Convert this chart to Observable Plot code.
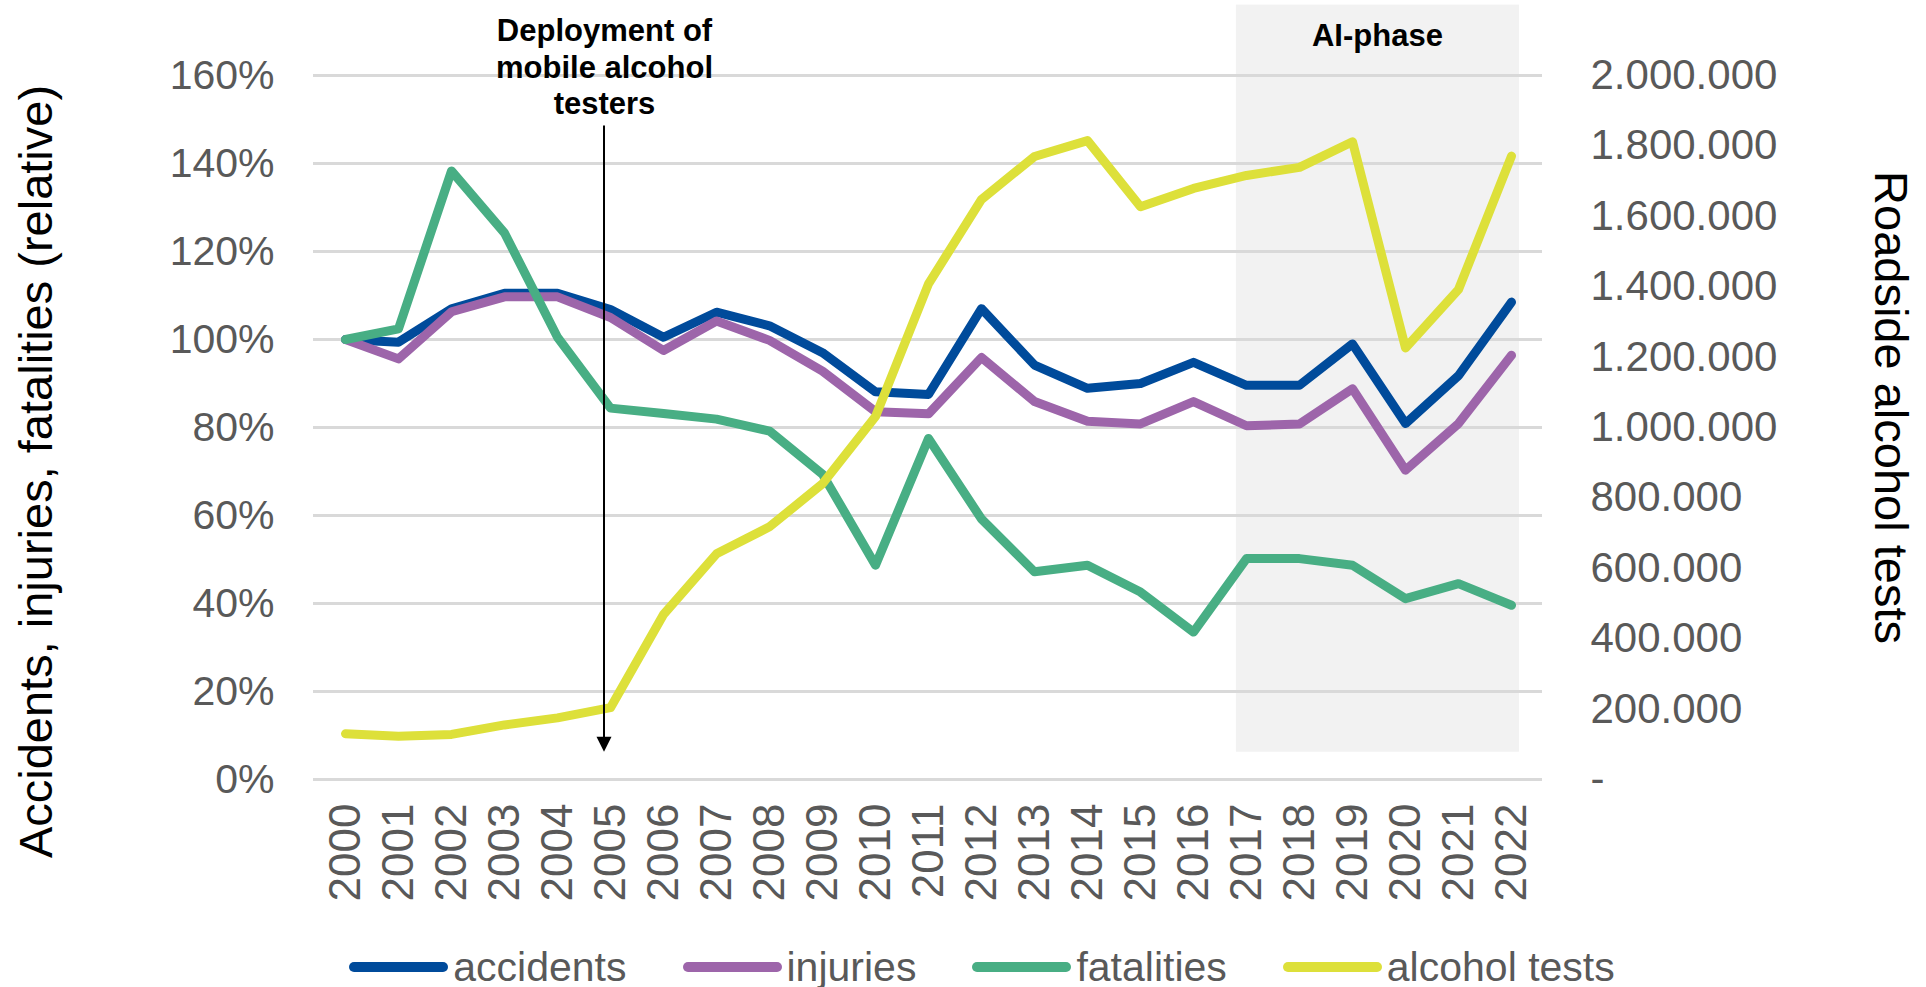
<!DOCTYPE html>
<html>
<head>
<meta charset="utf-8">
<script src="https://cdn.jsdelivr.net/npm/d3@7"></script>
<script src="https://cdn.jsdelivr.net/npm/@observablehq/plot@0.6"></script>
<style>
  body { margin: 0; background: #fff; font-family: "Liberation Sans", Arial, sans-serif; }
  #wrap { position: relative; width: 1926px; height: 987px; }
  #legend { position: absolute; left: 0; top: 942px; width: 1926px; height: 50px; display: flex;
            justify-content: center; align-items: center; gap: 56px; padding-left: 38px; box-sizing: border-box; }
  .item { display: flex; align-items: center; font-size: 41px; color: #595959; line-height: 1; }
  .sw { width: 99px; height: 10px; border-radius: 5px; margin-right: 5px; }
</style>
</head>
<body>
<div id="wrap"><div id="chart"></div><div id="legend"></div></div>
<script>
// ---- data ----
const years = ["2000","2001","2002","2003","2004","2005","2006","2007","2008","2009","2010","2011",
               "2012","2013","2014","2015","2016","2017","2018","2019","2020","2021","2022"];
const accidents  = [100, 99.4, 107, 110.5, 110.5, 106.8, 100.5, 106.2, 103.1, 97, 88.1, 87.5,
                    107, 94.2, 88.9, 90, 94.8, 89.6, 89.6, 99, 80.9, 91.8, 108.5];
const injuries   = [100, 95.6, 106.3, 109.7, 109.7, 105, 97.5, 104.2, 99.8, 92.8, 83.6, 83.1,
                    95.9, 85.9, 81.4, 80.8, 85.9, 80.4, 80.8, 88.8, 70.3, 80.9, 96.4];
const fatalities = [100, 102.4, 138.3, 124.2, 100.5, 84.4, 83.2, 81.9, 79.2, 69.4, 48.7, 77.5,
                    59.2, 47.2, 48.7, 42.6, 33.5, 50.2, 50.2, 48.7, 41.1, 44.5, 39.6];
const alcoholTests = [130000, 122600, 128000, 155000, 175000, 204000, 469000, 641000, 718000, 840000,
                      1031000, 1408000, 1648000, 1770000, 1815000, 1627000, 1679000, 1716000, 1739000,
                      1812000, 1226000, 1392000, 1771000];
const seriesNames  = ["accidents", "injuries", "fatalities", "alcohol tests"];
const seriesColors = ["#004b9b", "#9d65aa", "#48ae84", "#dde03a"];
const leftTicks  = [0, 20, 40, 60, 80, 100, 120, 140, 160];
const rightTicks = [0, 200000, 400000, 600000, 800000, 1000000, 1200000, 1400000, 1600000, 1800000, 2000000];
const leftMax = 160, rightMax = 2000000;
const leftTitle  = "Accidents, injuries, fatalities (relative)";
const rightTitle = "Roadside alcohol tests";
const deployLabel = "Deployment of\nmobile alcohol\ntesters";
const deployYear = "2005", deployTop = 148.5, deployTip = 6.2;
const phaseLabel = "AI-phase";
const phaseFrom = "2017", phaseTo = "2022", phaseTop = 176, phaseBottom = 6.2;

// ---- helpers ----
const ratio = rightMax / leftMax;
const fmtRight = v => v === 0 ? "-" : d3.format(",")(v).replace(/,/g, ".");
const seriesValues = [accidents, injuries, fatalities, alcoholTests.map(v => v / ratio)];
const FONT = "'Liberation Sans', Arial, sans-serif";

function phaseMark(index, scales) {
  const x = scales.x, y = scales.y;
  const step = x(years[1]) - x(years[0]);
  const x1 = x(phaseFrom) - step * 0.19, x2 = x(phaseTo) + step * 0.15;
  const g = d3.create("svg:g");
  g.append("rect").attr("x", x1).attr("y", y(phaseTop)).attr("width", x2 - x1)
    .attr("height", y(phaseBottom) - y(phaseTop)).attr("fill", "#f2f2f2");
  g.append("text").attr("x", (x1 + x2) / 2).attr("y", y(phaseTop) + 41)
    .attr("text-anchor", "middle").attr("font-weight", "bold").attr("font-size", 31)
    .attr("font-family", FONT).attr("fill", "#000").text(phaseLabel);
  return g.node();
}
function arrowMark(index, scales) {
  const x = scales.x(deployYear) - 6, y = scales.y;
  const top = y(deployTop), tip = y(deployTip);
  const g = d3.create("svg:g");
  g.append("line").attr("x1", x).attr("x2", x).attr("y1", top).attr("y2", tip - 14)
    .attr("stroke", "#000").attr("stroke-width", 2);
  g.append("path").attr("d", `M${x - 7.5},${tip - 15}L${x + 7.5},${tip - 15}L${x},${tip}Z`).attr("fill", "#000");
  return g.node();
}

const lines = seriesValues.map((vals, k) =>
  Plot.line(years, {x: d => d, y: (d, i) => vals[i], stroke: seriesColors[k], strokeWidth: 9,
                    strokeLinejoin: "round", strokeLinecap: "round"}));

const chart = Plot.plot({
  width: 1926, height: 930,
  marginLeft: 313, marginRight: 384, marginTop: 75, marginBottom: 151,
  style: {fontFamily: FONT, background: "#fff", overflow: "visible"},
  x: {type: "point", domain: years, padding: 0.5},
  y: {domain: [0, leftMax]},
  marks: [
    phaseMark,
    Plot.gridY(leftTicks, {stroke: "#d9d9d9", strokeOpacity: 1, strokeWidth: 3}),
    Plot.axisY(leftTicks, {anchor: "left", tickSize: 0, tickPadding: 39, fontSize: 41, fill: "#595959",
                           tickFormat: d => d + "%", label: null}),
    Plot.axisY(rightTicks.map(v => v / ratio), {anchor: "right", tickSize: 0, tickPadding: 48, textAnchor: "start",
                           fontSize: 42, fill: "#595959", tickFormat: d => fmtRight(Math.round(d * ratio)), label: null}),
    Plot.axisX({tickRotate: -90, tickSize: 0, tickPadding: 24, fontSize: 44, fill: "#595959", label: null}),
    ...lines,
    arrowMark,
    Plot.text([deployLabel], {x: () => deployYear, text: d => d, frameAnchor: "top", dx: -6, dy: -60,
                              lineAnchor: "top", lineHeight: 1.17, fontSize: 31, fontWeight: "bold", fill: "#000"}),
    Plot.text([leftTitle], {text: d => d, frameAnchor: "left", dx: -277, dy: 44, rotate: -90,
                            fontSize: 47, fill: "#000", textAnchor: "middle"}),
    Plot.text([rightTitle], {text: d => d, frameAnchor: "right", dx: 348, dy: -20, rotate: 90,
                             fontSize: 47, fill: "#000", textAnchor: "middle"})
  ]
});
document.getElementById("chart").appendChild(chart);

const legend = d3.select("#legend");
seriesNames.forEach((name, k) => {
  const it = legend.append("div").attr("class", "item");
  it.append("div").attr("class", "sw").style("background", seriesColors[k]);
  it.append("span").text(name);
});
</script>
</body>
</html>
